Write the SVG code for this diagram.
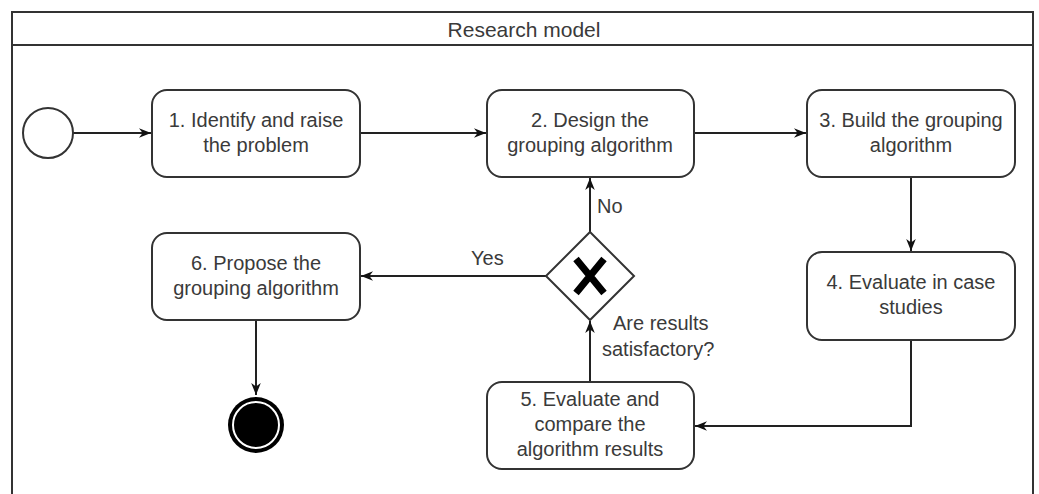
<svg xmlns="http://www.w3.org/2000/svg" width="1039" height="494" viewBox="0 0 1039 494">
<defs>
<style>
.box{fill:#fff;stroke:#333;stroke-width:2}
.t{font-family:"Liberation Sans",Arial,sans-serif;font-size:20px;fill:#3a3a3a;text-anchor:middle}
.tl{font-family:"Liberation Sans",Arial,sans-serif;font-size:20px;fill:#3a3a3a}
.c{fill:none;stroke:#222;stroke-width:2}
</style>
<marker id="arr" viewBox="0 0 10 10" refX="10" refY="5" markerWidth="12" markerHeight="12" orient="auto" markerUnits="userSpaceOnUse">
<path d="M0,1 L10,5 L0,9 L3,5 Z" fill="#111"/>
</marker>
</defs>
<rect x="0" y="0" width="1039" height="494" fill="#fff"/>
<g id="frame">
<rect x="12" y="12" width="1021" height="490" fill="none" stroke="#333" stroke-width="2"/>
<line x1="12" y1="45" x2="1033" y2="45" stroke="#333" stroke-width="2"/>
<text class="t" x="524" y="37" style="font-size:21px">Research model</text>
</g>
<g id="connectors">
<path class="c" d="M73,133 H151" marker-end="url(#arr)"/>
<path class="c" d="M360,133 H486" marker-end="url(#arr)"/>
<path class="c" d="M694,133 H806" marker-end="url(#arr)"/>
<path class="c" d="M911,177 V251" marker-end="url(#arr)"/>
<path class="c" d="M911,340 V426 H695" marker-end="url(#arr)"/>
<path class="c" d="M590,382 V321" marker-end="url(#arr)"/>
<path class="c" d="M590,232 V178" marker-end="url(#arr)"/>
<path class="c" d="M546,276 H361" marker-end="url(#arr)"/>
<path class="c" d="M256,320 V395" marker-end="url(#arr)"/>
<text class="tl" x="597" y="213">No</text>
<text class="tl" x="471" y="265">Yes</text>
<text class="tl" x="613" y="330">Are results</text>
<text class="tl" x="602" y="356">satisfactory?</text>
</g>
<g id="start">
<circle cx="48" cy="133" r="25" fill="#fff" stroke="#333" stroke-width="2"/>
</g>
<g id="n1">
<rect class="box" x="152" y="90" width="208" height="87" rx="15"/>
<text class="t" x="256" y="127">1. Identify and raise</text>
<text class="t" x="256" y="152">the problem</text>
</g>
<g id="n2">
<rect class="box" x="487" y="90" width="207" height="87" rx="15"/>
<text class="t" x="590" y="127">2. Design the</text>
<text class="t" x="590" y="152">grouping algorithm</text>
</g>
<g id="n3">
<rect class="box" x="807" y="90" width="208" height="87" rx="15"/>
<text class="t" x="911" y="127">3. Build the grouping</text>
<text class="t" x="911" y="152">algorithm</text>
</g>
<g id="n4">
<rect class="box" x="807" y="252" width="208" height="88" rx="15"/>
<text class="t" x="911" y="289">4. Evaluate in case</text>
<text class="t" x="911" y="314">studies</text>
</g>
<g id="n5">
<rect class="box" x="487" y="382" width="207" height="87" rx="15"/>
<text class="t" x="590" y="406">5. Evaluate and</text>
<text class="t" x="590" y="431">compare the</text>
<text class="t" x="590" y="456">algorithm results</text>
</g>
<g id="n6">
<rect class="box" x="152" y="233" width="208" height="87" rx="15"/>
<text class="t" x="256" y="270">6. Propose the</text>
<text class="t" x="256" y="295">grouping algorithm</text>
</g>
<g id="gateway">
<polygon points="590,232 634,276 590,320 546,276" fill="#fff" stroke="#333" stroke-width="2"/>
<path d="M576,259 L604,293 M604,259 L576,293" stroke="#000" stroke-width="7" fill="none"/>
</g>
<g id="end">
<circle cx="256" cy="425" r="28" fill="#000"/>
<circle cx="256" cy="425" r="23" fill="#000" stroke="#fff" stroke-width="2"/>
</g>
</svg>
